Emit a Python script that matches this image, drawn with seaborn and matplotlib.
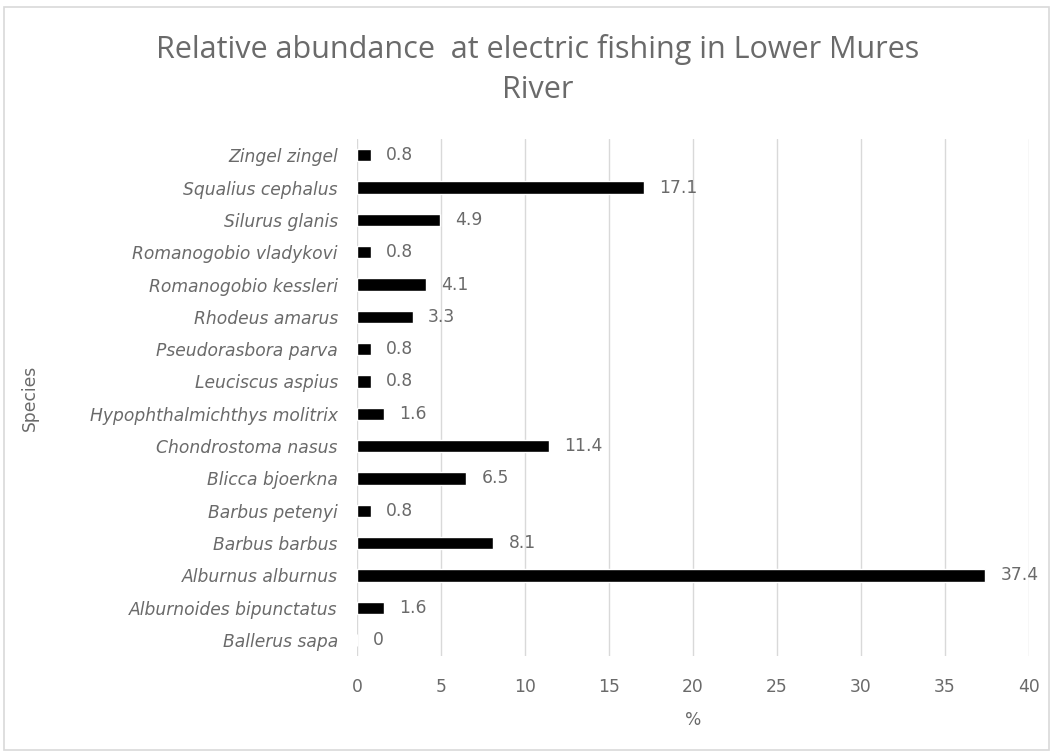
import matplotlib
matplotlib.use("Agg")
import matplotlib.pyplot as plt
import seaborn as sns
import pandas as pd
from matplotlib.patches import Rectangle

species = ["Zingel zingel", "Squalius cephalus", "Silurus glanis", "Romanogobio vladykovi",
           "Romanogobio kessleri", "Rhodeus amarus", "Pseudorasbora parva", "Leuciscus aspius",
           "Hypophthalmichthys molitrix", "Chondrostoma nasus", "Blicca bjoerkna", "Barbus petenyi",
           "Barbus barbus", "Alburnus alburnus", "Alburnoides bipunctatus", "Ballerus sapa"]
values = [0.8, 17.1, 4.9, 0.8, 4.1, 3.3, 0.8, 0.8, 1.6, 11.4, 6.5, 0.8, 8.1, 37.4, 1.6, 0]
labels = ["0.8", "17.1", "4.9", "0.8", "4.1", "3.3", "0.8", "0.8", "1.6", "11.4", "6.5", "0.8",
          "8.1", "37.4", "1.6", "0"]
xticks = [0, 5, 10, 15, 20, 25, 30, 35, 40]

df = pd.DataFrame({"Species": species, "Value": values})

sns.set_theme(style="white")
plt.rcParams['font.family'] = ['DejaVu Sans']
gray = "#6a6a6a"
fs = 12.3

fig = plt.figure(figsize=(10.54, 7.56), dpi=100)
ax = fig.add_axes([0.339, 0.132, 0.637, 0.684])

sns.barplot(data=df, y="Species", x="Value", order=species, color="black",
            width=0.38, ax=ax, saturation=1)

ax.set_xlim(0, 40)
ax.set_xticks(xticks)
ax.set_xticklabels([str(t) for t in xticks], color=gray, fontsize=fs)
ax.tick_params(axis="x", length=0, pad=16)
ax.tick_params(axis="y", length=0, pad=14)
for lab in ax.get_yticklabels():
    lab.set_fontstyle("italic")
    lab.set_color(gray)
    lab.set_fontsize(fs)
ax.xaxis.grid(True, color="#d9d9d9", linewidth=1)
ax.set_axisbelow(True)
for s in ax.spines.values():
    s.set_visible(False)

ax.bar_label(ax.containers[0], labels=labels, padding=11, color=gray, fontsize=fs)

ax.set_xlabel("%", color=gray, fontsize=fs)
ax.xaxis.set_label_coords(0.5, -0.105)
ax.set_ylabel("Species", color=gray, fontsize=fs)
ax.yaxis.set_label_coords(-0.475, 0.5)

fig.text(0.51, 0.908, "Relative abundance  at electric fishing in Lower Mures\nRiver",
         ha="center", va="center", fontsize=22, color=gray, linespacing=1.4,
         family="Open Sans")

fig.patches.append(Rectangle((0.004, 0.008), 0.991, 0.983, transform=fig.transFigure,
                             fill=False, edgecolor="#d9d9d9", linewidth=1.2))

fig.savefig("out.png", dpi=100)
